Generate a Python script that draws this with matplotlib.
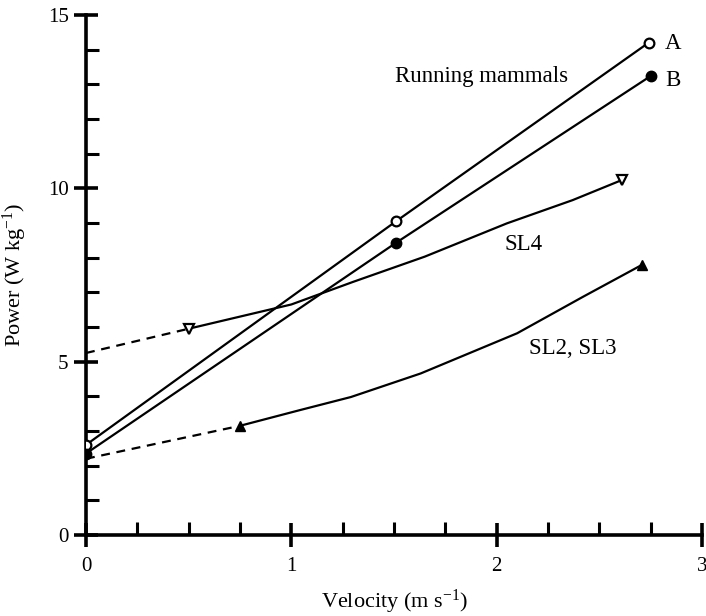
import matplotlib
matplotlib.use("Agg")
import matplotlib.pyplot as plt
from matplotlib.ticker import MultipleLocator

plt.rcParams["font.family"] = ["Liberation Serif", "DejaVu Serif"]
plt.rcParams["mathtext.fontset"] = "custom"
plt.rcParams["mathtext.rm"] = "Liberation Serif"
plt.rcParams["mathtext.default"] = "regular"

# ── Running mammals (curves A and B) ───────────────────────────────
mammal_a_v = [0.0, 1.51, 2.74]
mammal_a_p = [2.6, 9.05, 14.2]
mammal_b_v = [0.0, 1.51, 2.75]
mammal_b_p = [2.35, 8.43, 13.24]

# ── SL4: measured points, fitted curve, extrapolation to zero speed ─
sl4_v = [0.5, 2.61]
sl4_p = [5.95, 10.24]
sl4_curve_v = [0.5, 0.75, 1.0, 1.3, 1.65, 2.05, 2.37, 2.61]
sl4_curve_p = [5.95, 6.3, 6.65, 7.3, 8.03, 8.99, 9.66, 10.24]
sl4_extrap_v = [0.0, 0.5]
sl4_extrap_p = [5.25, 5.95]

# ── SL2, SL3 ───────────────────────────────────────────────────────
sl23_v = [0.75, 2.71]
sl23_p = [3.15, 7.8]
sl23_curve_v = [0.75, 1.04, 1.29, 1.63, 2.1, 2.42, 2.71]
sl23_curve_p = [3.15, 3.6, 3.98, 4.66, 5.82, 6.87, 7.8]
sl23_extrap_v = [0.0, 0.75]
sl23_extrap_p = [2.2, 3.15]

fig = plt.figure(figsize=(7.06, 6.16), dpi=100)
ax = fig.add_axes([86 / 706, 81 / 616, 616 / 706, 520 / 616])

lw = 1.6
ax.plot(mammal_a_v, mammal_a_p, color="black", lw=lw, marker="o", ms=7,
        mfc="white", mec="black", mew=1.6, zorder=3)
ax.plot(mammal_b_v, mammal_b_p, color="black", lw=lw, marker="o", ms=7.5,
        mfc="black", mec="black", zorder=3)

ax.plot(sl4_extrap_v, sl4_extrap_p, color="black", lw=lw, ls=(0, (4, 3)))
ax.plot(sl4_curve_v, sl4_curve_p, color="black", lw=lw)
ax.plot(sl4_v, sl4_p, ls="none", marker="v", ms=7, mfc="white",
        mec="black", mew=1.6, zorder=3)

ax.plot(sl23_extrap_v, sl23_extrap_p, color="black", lw=lw, ls=(0, (4, 3)))
ax.plot(sl23_curve_v, sl23_curve_p, color="black", lw=lw)
ax.plot(sl23_v, sl23_p, ls="none", marker="^", ms=7, mfc="black",
        mec="black", zorder=3)

ax.text(1.505, 13.22, "Running mammals", fontsize=16.5, ha="left", va="center")
ax.text(2.86, 14.18, "A", fontsize=16.5, ha="center", va="center")
ax.text(2.86, 13.12, "B", fontsize=16.5, ha="center", va="center")
ax.text(2.13, 8.38, "SL4", fontsize=16.5, ha="center", va="center")
ax.text(2.37, 5.38, "SL2, SL3", fontsize=16.5, ha="center", va="center")

ax.set_xlim(0, 3)
ax.set_ylim(0, 15)
ax.xaxis.set_major_locator(MultipleLocator(1))
ax.xaxis.set_minor_locator(MultipleLocator(0.25))
ax.yaxis.set_major_locator(MultipleLocator(5))
ax.yaxis.set_minor_locator(MultipleLocator(1))

for side in ("top", "right"):
    ax.spines[side].set_visible(False)
for side in ("left", "bottom"):
    ax.spines[side].set_linewidth(2.6)

ax.tick_params(which="major", direction="inout", length=17, width=2.6,
               labelsize=15)
ax.tick_params(which="minor", direction="in", length=9.5, width=2.2)
ax.tick_params(axis="x", which="major", pad=7)
ax.tick_params(axis="y", which="major", pad=4)

ax.set_xlabel("Velocity (m s$^{-1}$)", fontsize=16)
ax.set_ylabel("Power (W kg$^{-1}$)", fontsize=16)
ax.xaxis.set_label_coords(0.5, -0.102)
ax.yaxis.set_label_coords(-0.092, 0.5)

fig.savefig("out.png", dpi=100)
